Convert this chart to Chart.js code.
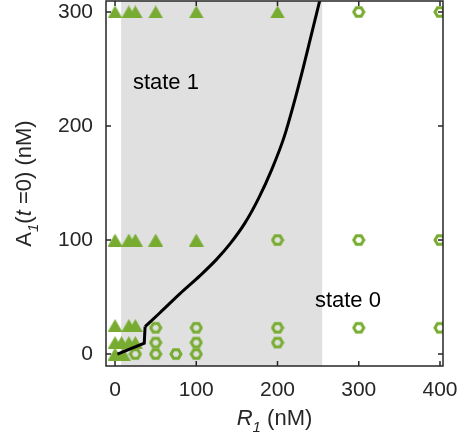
<!DOCTYPE html>
<html>
<head>
<meta charset="utf-8">
<title>Bistability map</title>
<script src="https://cdn.jsdelivr.net/npm/chart.js@4.4.1/dist/chart.umd.min.js"></script>
<style>
  html, body { margin: 0; padding: 0; background: #fff; }
</style>
</head>
<body>
<canvas id="phaseChart" width="458" height="442"></canvas>

<script>
    // axis ticks (nM)
    const rTicks = [0, 100, 200, 300, 400];
    const aTicks = [0, 100, 200, 300];

    // initial conditions (R1, A1 at t=0) that end up in state 1
    const state1R = [0, 17, 25, 50, 100, 200, 0, 17, 25, 50, 100, 0, 17, 25, 0, 8, 17, 25, 0, 10];
    const state1A = [300, 300, 300, 300, 300, 300, 100, 100, 100, 100, 100, 25, 25, 25, 10, 10, 10, 10, 0, 0];

    // initial conditions that end up in state 0
    const state0R = [300, 400, 200, 300, 400, 50, 100, 200, 300, 400, 50, 100, 200, 25, 50, 75, 100];
    const state0A = [300, 300, 100, 100, 100, 23, 23, 23, 23, 23, 10, 10, 10, 0, 0, 0, 0];

    // separatrix: straight start with a jump, then the smooth branch
    const kinkR = [3, 36, 37];
    const kinkA = [0, 9.5, 24];
    const curveR = [37, 55, 80, 105, 125, 142, 160, 177, 193, 208, 221, 232, 242, 252];
    const curveA = [24, 36, 53, 69, 83, 97, 115, 137, 162, 190, 222, 252, 281, 310];

    // bistable band along R1
    const bandR = [7.5, 255];

    const GREEN = '#77AC30';
    const INK = '#262626';
    const FONT = "'Liberation Sans', Arial, Helvetica, sans-serif";

    const toPoints = (xs, ys) => xs.map((x, i) => ({ x: x, y: ys[i] }));

    // filled triangle marker, centred on its bounding box
    function triangleMarker() {
        const c = document.createElement('canvas');
        c.width = 15; c.height = 13;
        const g = c.getContext('2d');
        g.fillStyle = GREEN;
        g.beginPath();
        g.moveTo(7.5, 0);
        g.lineTo(15, 13);
        g.lineTo(0, 13);
        g.closePath();
        g.fill();
        return c;
    }

    // open hexagon marker
    function hexMarker() {
        const c = document.createElement('canvas');
        c.width = 14; c.height = 14;
        const g = c.getContext('2d');
        g.strokeStyle = GREEN;
        g.lineWidth = 3;
        g.beginPath();
        for (let k = 0; k < 6; k++) {
            const t = k * Math.PI / 3;
            const px = 7 + 5 * Math.cos(t), py = 7 + 5 * Math.sin(t);
            if (k === 0) g.moveTo(px, py); else g.lineTo(px, py);
        }
        g.closePath();
        g.stroke();
        return c;
    }

    // draws a run of text pieces (italic / subscript) centred on x
    function drawRuns(ctx, runs, cx, baseline) {
        const size = 22;
        const parts = runs.map(r => {
            const fs = r.sub ? 15 : size;
            const font = (r.italic ? 'italic ' : '') + fs + 'px ' + FONT;
            ctx.font = font;
            return { text: r.text, font: font, w: ctx.measureText(r.text).width, dy: r.sub ? 7 : 0 };
        });
        const total = parts.reduce((s, p) => s + p.w, 0);
        let x = cx - total / 2;
        ctx.textAlign = 'left';
        ctx.textBaseline = 'alphabetic';
        parts.forEach(p => {
            ctx.font = p.font;
            ctx.fillText(p.text, x, baseline + p.dy);
            x += p.w;
        });
    }

    const bandPlugin = {
        id: 'band',
        beforeDatasetsDraw(chart) {
            const { ctx, chartArea, scales } = chart;
            const x0 = scales.x.getPixelForValue(bandR[0]);
            const x1 = scales.x.getPixelForValue(bandR[1]);
            ctx.save();
            ctx.fillStyle = '#E0E0E0';
            ctx.fillRect(x0, chartArea.top, x1 - x0, chartArea.bottom - chartArea.top);
            ctx.restore();
        }
    };

    const framePlugin = {
        id: 'frame',
        afterDatasetsDraw(chart) {
            const { ctx, chartArea: a, scales } = chart;
            ctx.save();
            ctx.strokeStyle = INK;
            ctx.lineWidth = 1.5;
            ctx.strokeRect(a.left, a.top, a.right - a.left, a.bottom - a.top);

            // inward tick marks on all four sides
            const len = 5;
            ctx.beginPath();
            rTicks.forEach(v => {
                const px = scales.x.getPixelForValue(v);
                ctx.moveTo(px, a.bottom); ctx.lineTo(px, a.bottom - len);
                ctx.moveTo(px, a.top); ctx.lineTo(px, a.top + len);
            });
            aTicks.forEach(v => {
                const py = scales.y.getPixelForValue(v);
                ctx.moveTo(a.left, py); ctx.lineTo(a.left + len, py);
                ctx.moveTo(a.right, py); ctx.lineTo(a.right - len, py);
            });
            ctx.stroke();

            // region labels
            ctx.fillStyle = '#000';
            ctx.font = '22px ' + FONT;
            ctx.textAlign = 'left';
            ctx.textBaseline = 'alphabetic';
            ctx.fillText('state 1', scales.x.getPixelForValue(22), scales.y.getPixelForValue(232));
            ctx.fillText('state 0', scales.x.getPixelForValue(246), scales.y.getPixelForValue(41.5));

            // axis titles
            ctx.fillStyle = INK;
            drawRuns(ctx, [
                { text: 'R', italic: true },
                { text: '1', italic: true, sub: true },
                { text: ' (nM)' }
            ], (a.left + a.right) / 2, 425);

            ctx.translate(31, (a.top + a.bottom) / 2);
            ctx.rotate(-Math.PI / 2);
            drawRuns(ctx, [
                { text: 'A' },
                { text: '1', italic: true, sub: true },
                { text: '(' },
                { text: 't', italic: true },
                { text: ' =0) (nM)' }
            ], 0, 0);
            ctx.restore();
        }
    };

    const ctx = document.getElementById('phaseChart').getContext('2d');
    const phaseChart = new Chart(ctx, {
        type: 'scatter',
        data: {
            datasets: [
                {
                    label: 'separatrix (jump)',
                    data: toPoints(kinkR, kinkA),
                    showLine: true,
                    borderColor: '#000',
                    borderWidth: 3,
                    pointRadius: 0,
                    tension: 0,
                    order: 0
                },
                {
                    label: 'separatrix',
                    data: toPoints(curveR, curveA),
                    showLine: true,
                    borderColor: '#000',
                    borderWidth: 3,
                    pointRadius: 0,
                    cubicInterpolationMode: 'monotone',
                    order: 0
                },
                {
                    label: 'state 1',
                    data: toPoints(state1R, state1A),
                    pointStyle: triangleMarker(),
                    pointRadius: 7,
                    order: 1
                },
                {
                    label: 'state 0',
                    data: toPoints(state0R, state0A),
                    pointStyle: hexMarker(),
                    pointRadius: 7,
                    order: 2
                }
            ]
        },
        options: {
            responsive: false,
            animation: false,
            layout: { autoPadding: false, padding: { top: 1, right: 15, left: 0, bottom: 0 } },
            plugins: {
                legend: { display: false },
                tooltip: { enabled: false }
            },
            scales: {
                x: {
                    type: 'linear',
                    min: -11.1,
                    max: 403.7,
                    grid: { display: false, drawTicks: false },
                    border: { display: false },
                    ticks: {
                        color: INK,
                        font: { family: FONT, size: 21 },
                        padding: 12,
                        maxRotation: 0
                    },
                    afterBuildTicks: s => { s.ticks = rTicks.map(v => ({ value: v })); },
                    afterFit: s => { s.height = 76; s.paddingLeft = 0; s.paddingRight = 0; }
                },
                y: {
                    type: 'linear',
                    min: -10.5,
                    max: 309.6,
                    grid: { display: false, drawTicks: false },
                    border: { display: false },
                    ticks: {
                        color: INK,
                        font: { family: FONT, size: 21 },
                        padding: 13
                    },
                    afterBuildTicks: s => { s.ticks = aTicks.map(v => ({ value: v })); },
                    afterFit: s => { s.width = 106; s.paddingTop = 0; s.paddingBottom = 0; }
                }
            }
        },
        plugins: [bandPlugin, framePlugin]
    });
</script>
</body>
</html>
